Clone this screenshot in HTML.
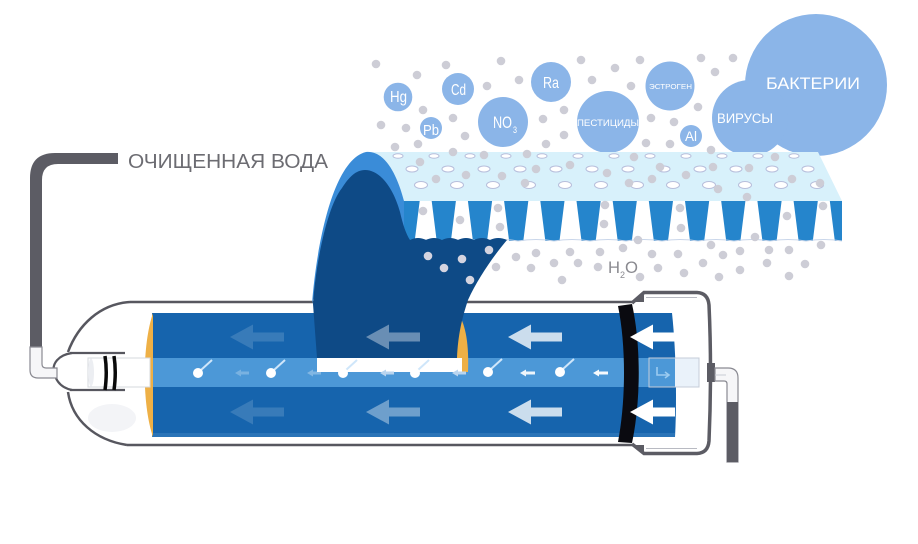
<!DOCTYPE html>
<html><head><meta charset="utf-8"><style>
html,body{margin:0;padding:0;background:#fff;}
svg{display:block;}
</style></head><body>
<svg width="918" height="544" viewBox="0 0 918 544" xmlns="http://www.w3.org/2000/svg">
<rect width="918" height="544" fill="#fff"/>

<!-- Bubbles -->
<g fill="#8bb5e8">
<circle cx="816" cy="85" r="71"/>
<circle cx="750" cy="118" r="38"/>
<circle cx="398" cy="97" r="14.3"/>
<circle cx="431" cy="128" r="11"/>
<circle cx="458" cy="89" r="16"/>
<circle cx="503" cy="122" r="25"/>
<circle cx="551" cy="82" r="20"/>
<circle cx="608" cy="122" r="31"/>
<circle cx="670" cy="86" r="24.5"/>
<circle cx="691" cy="136" r="11"/>
</g>
<g fill="#fff" font-family="'Liberation Sans Narrow','Liberation Sans','DejaVu Sans',sans-serif">
<text x="390" y="102" font-size="16" textLength="17" lengthAdjust="spacingAndGlyphs">Hg</text>
<text x="451" y="95" font-size="16" textLength="15" lengthAdjust="spacingAndGlyphs">Cd</text>
<text x="423" y="135" font-size="15" textLength="16" lengthAdjust="spacingAndGlyphs">Pb</text>
<text x="493" y="128" font-size="17" textLength="19" lengthAdjust="spacingAndGlyphs">NO</text>
<text x="513" y="133" font-size="9" textLength="4" lengthAdjust="spacingAndGlyphs">3</text>
<text x="543" y="88" font-size="16" textLength="16" lengthAdjust="spacingAndGlyphs">Ra</text>
<text x="577" y="126" font-size="9.5" textLength="62" lengthAdjust="spacingAndGlyphs">ПЕСТИЦИДЫ</text>
<text x="649" y="89" font-size="7.5" textLength="43" lengthAdjust="spacingAndGlyphs">ЭСТРОГЕН</text>
<text x="685" y="141" font-size="14" textLength="12" lengthAdjust="spacingAndGlyphs">Al</text>
<text x="717" y="123" font-size="13.5" textLength="56" lengthAdjust="spacingAndGlyphs">ВИРУСЫ</text>
<text x="766" y="89" font-size="17" textLength="94" lengthAdjust="spacingAndGlyphs">БАКТЕРИИ</text>
</g>

<!-- Membrane slab -->
<path d="M372,152 L818,152 L842,201 L404,201 C398,182 388,160 372,152 Z" fill="#d8f1fb"/>
<rect x="404" y="201" width="438" height="40" fill="#2585cc"/>
<g fill="#fff">
<polygon points="419.7,201 431.7,201 436.7,241 414.7,241"/>
<polygon points="455.9,201 467.9,201 472.9,241 450.9,241"/>
<polygon points="492.1,201 504.1,201 509.1,241 487.1,241"/>
<polygon points="528.3,201 540.3,201 545.3,241 523.3,241"/>
<polygon points="564.5,201 576.5,201 581.5,241 559.5,241"/>
<polygon points="600.7,201 612.7,201 617.7,241 595.7,241"/>
<polygon points="636.8,201 648.8,201 653.8,241 631.8,241"/>
<polygon points="673.0,201 685.0,201 690.0,241 668.0,241"/>
<polygon points="709.2,201 721.2,201 726.2,241 704.2,241"/>
<polygon points="745.4,201 757.4,201 762.4,241 740.4,241"/>
<polygon points="781.6,201 793.6,201 798.6,241 776.6,241"/>
<polygon points="817.8,201 829.8,201 834.8,241 812.8,241"/>
</g>
<path d="M410,241 Q428,238 446,241 Q464,238 482,241 Q500,238 518,241 Q536,238 554,241 Q572,238 590,241 Q608,238 626,241 Q644,238 662,241 Q680,238 698,241 Q716,238 734,241 Q752,238 770,241 Q788,238 806,241 Q824,238 842,241" fill="none" stroke="#c9d6ea" stroke-width="1"/>
<!-- holes -->
<g fill="#fff" stroke="#b7bedb" stroke-width="1">
<ellipse cx="398" cy="156" rx="5" ry="2.2"/><ellipse cx="434" cy="156" rx="5" ry="2.2"/><ellipse cx="470" cy="156" rx="5" ry="2.2"/><ellipse cx="506" cy="156" rx="5" ry="2.2"/><ellipse cx="542" cy="156" rx="5" ry="2.2"/><ellipse cx="578" cy="156" rx="5" ry="2.2"/><ellipse cx="614" cy="156" rx="5" ry="2.2"/><ellipse cx="650" cy="156" rx="5" ry="2.2"/><ellipse cx="686" cy="156" rx="5" ry="2.2"/><ellipse cx="722" cy="156" rx="5" ry="2.2"/><ellipse cx="758" cy="156" rx="5" ry="2.2"/><ellipse cx="794" cy="156" rx="5" ry="2.2"/>
<ellipse cx="412" cy="169" rx="6" ry="3"/><ellipse cx="448" cy="169" rx="6" ry="3"/><ellipse cx="484" cy="169" rx="6" ry="3"/><ellipse cx="520" cy="169" rx="6" ry="3"/><ellipse cx="556" cy="169" rx="6" ry="3"/><ellipse cx="592" cy="169" rx="6" ry="3"/><ellipse cx="628" cy="169" rx="6" ry="3"/><ellipse cx="664" cy="169" rx="6" ry="3"/><ellipse cx="700" cy="169" rx="6" ry="3"/><ellipse cx="736" cy="169" rx="6" ry="3"/><ellipse cx="772" cy="169" rx="6" ry="3"/><ellipse cx="808" cy="169" rx="6" ry="3"/>
<ellipse cx="421" cy="185" rx="6.5" ry="3.5"/><ellipse cx="457" cy="185" rx="6.5" ry="3.5"/><ellipse cx="493" cy="185" rx="6.5" ry="3.5"/><ellipse cx="529" cy="185" rx="6.5" ry="3.5"/><ellipse cx="565" cy="185" rx="6.5" ry="3.5"/><ellipse cx="601" cy="185" rx="6.5" ry="3.5"/><ellipse cx="637" cy="185" rx="6.5" ry="3.5"/><ellipse cx="673" cy="185" rx="6.5" ry="3.5"/><ellipse cx="709" cy="185" rx="6.5" ry="3.5"/><ellipse cx="745" cy="185" rx="6.5" ry="3.5"/><ellipse cx="781" cy="185" rx="6.5" ry="3.5"/><ellipse cx="817" cy="185" rx="6.5" ry="3.5"/>
</g>

<!-- Tube body -->
<path d="M130,302 L640,302 L640,445 L127,445 C95,440 72,420 68,392 L68,353 C78,325 100,304 130,302 Z" fill="#fff"/>
<ellipse cx="112" cy="418" rx="24" ry="14" fill="#f3f4f7"/>
<!-- roll -->
<path d="M152,313 L672,313 C676,350 677,400 675,437 L152,437 Z" fill="#1664ad"/>
<rect x="152" y="358" width="523" height="29" fill="#4c98d7"/>
<rect x="152" y="433" width="523" height="4" fill="#2a74b8"/>
<!-- orange ends -->
<path d="M153,313 C142,345 142,405 153,437 Z" fill="#eeb046"/>
<path d="M458,313 C466,325 469,345 468,372 L455,372 L456,313 Z" fill="#eeb046"/>

<!-- outline lines -->
<g fill="none" stroke="#57575f" stroke-width="2.5">
<path d="M130,302 L634,302"/>
<path d="M127,445 L634,445"/>
<path d="M130,302 C100,304 78,325 68,352"/>
<path d="M68,392 C72,420 95,440 127,445"/>
</g>
<path d="M72,353 C58,355 52,364 54,372 C56,382 62,388 72,390" fill="#fff" stroke="#57575f" stroke-width="2.2"/>
<path d="M70,353 L125,353 M70,390 L125,390" stroke="#57575f" stroke-width="2.2"/>

<!-- left connector -->
<rect x="88" y="358" width="62" height="29" fill="#fff" stroke="#d6d8de" stroke-width="1"/>
<ellipse cx="91" cy="372.5" rx="3" ry="14" fill="#eceef2"/>
<path d="M105,356 Q107.5,372 105,390" fill="none" stroke="#0a0a0a" stroke-width="3.5"/>
<path d="M114,356 Q116.5,372 114,390" fill="none" stroke="#0a0a0a" stroke-width="3.5"/>

<!-- left pipe -->
<path d="M118,153 L55,153 Q30,153 30,178 L30,347 L42,347 L42,180 Q42,164 58,164 L118,164 Z" fill="#5c5c64"/>
<path d="M30,347 L30,370 Q30,378 38,378 L57,378 L57,368 L46,368 Q42,368 42,364 L42,347 Z" fill="#f6f6f8" stroke="#8a8a92" stroke-width="1.2"/>

<!-- medium blue arc -->
<path d="M312,304 C316,250 332,160 366,152 C386,150 398,178 404,201 L404,241 L330,241 Z" fill="#3a8cd8"/>
<!-- navy sheet -->
<path d="M317,358 L313,304 C316,260 328,205 342,188 C349,177 356,170 365,170 C381,170 394,190 400,212 C403,225 406,234 410,240 Q418,236 426,240 Q434,236 442,240 Q450,236 458,240 Q466,236 474,240 Q482,236 490,240 Q498,236 507,240 C495,254 478,278 468,300 C462,318 458,335 457,358 Z" fill="#0e4a86"/>

<!-- big arrows -->
<g>
<polygon fill="#fff" fill-opacity="0.15" points="230,337 253,324.5 253,332.5 284,332.5 284,341.5 253,341.5 253,349.5"/>
<polygon fill="#fff" fill-opacity="0.15" points="230,412 253,399.5 253,407.5 284,407.5 284,416.5 253,416.5 253,424.5"/>
<polygon fill="#fff" fill-opacity="0.38" points="366,337 389,324.5 389,332.5 420,332.5 420,341.5 389,341.5 389,349.5"/>
<polygon fill="#fff" fill-opacity="0.38" points="366,412 389,399.5 389,407.5 420,407.5 420,416.5 389,416.5 389,424.5"/>
<polygon fill="#fff" fill-opacity="0.78" points="508,337 531,324.5 531,332.5 562,332.5 562,341.5 531,341.5 531,349.5"/>
<polygon fill="#fff" fill-opacity="0.78" points="508,412 531,399.5 531,407.5 562,407.5 562,416.5 531,416.5 531,424.5"/>
</g>

<!-- white bar -->
<rect x="317" y="358" width="145" height="14" fill="#fff"/>

<!-- small arrows in band -->
<g fill="#fff">
<polygon fill-opacity="0.25" points="235,373 241,369.5 241,371.5 249,371.5 249,374.5 241,374.5 241,376.5"/>
<polygon fill-opacity="0.3" points="307,373 313,369.5 313,371.5 321,371.5 321,374.5 313,374.5 313,376.5"/>
<polygon fill="#b9d5ef" points="380,373 386,369.5 386,371.5 394,371.5 394,374.5 386,374.5 386,376.5"/>
<polygon fill="#b9d5ef" points="452,373 458,369.5 458,371.5 466,371.5 466,374.5 458,374.5 458,376.5"/>
<polygon fill-opacity="0.9" points="520,373 526,369.5 526,371.5 535,371.5 535,374.5 526,374.5 526,376.5"/>
<polygon fill-opacity="0.95" points="593,373 599,369.5 599,371.5 608,371.5 608,374.5 599,374.5 599,376.5"/>
</g>
<!-- molecules -->
<g stroke="#cfe6fa" stroke-width="2" fill="none">
<path d="M201,370 L212,360"/><path d="M274,370 L285,360"/><path d="M346,370 L357,360"/><path d="M418,370 L429,360"/><path d="M491,369 L502,359"/><path d="M563,369 L574,359"/>
</g>
<g fill="#fff">
<circle cx="198" cy="373" r="5"/><circle cx="271" cy="373" r="5"/><circle cx="343" cy="373" r="5"/><circle cx="415" cy="373" r="5"/><circle cx="488" cy="372" r="5"/><circle cx="560" cy="372" r="5"/>
</g>

<!-- right cap -->
<rect x="675" y="358" width="24" height="29" fill="#eaf2fa"/>
<rect x="649" y="358" width="50" height="29" fill="none" stroke="#c5ccd8" stroke-width="1"/>
<path d="M657,367 L657,375 L668,375" fill="none" stroke="#9bcbf0" stroke-width="1.6"/>
<path d="M665,372 L669,375 L665,378" fill="none" stroke="#9bcbf0" stroke-width="1.6"/>
<path d="M632,303 L644,292.5 L697,292.5 Q708,293 709,305 Q712,370 709,441 Q708,453 697,453.5 L644,453.5 L632,444" fill="none" stroke="#5c5c64" stroke-width="3.5"/>
<path d="M646,297.5 L697,297.5 M646,448.5 L697,448.5" stroke="#b8bac2" stroke-width="1"/>
<polygon points="632,302 644,292 644,302" fill="#5c5c64"/>
<polygon points="632,445 644,454 644,445" fill="#5c5c64"/>
<rect x="707" y="363" width="8" height="19" fill="#5c5c64"/>
<!-- right pipe -->
<path d="M715,368 L728,368 Q738,368 738,378 L738,462 L727,462 L727,384 Q727,381 724,381 L715,381 Z" fill="#f6f6f8" stroke="#8a8a92" stroke-width="1.2"/>
<path d="M715,375 L726,375" stroke="#c8ccd4" stroke-width="1"/>
<rect x="727" y="402" width="11" height="60" fill="#5c5c64"/>

<!-- black bar -->
<path d="M618,306 C626,345 626,400 618,442 L632,443 C641,400 641,345 632,304 Z" fill="#0a0a10"/>
<!-- right white arrows -->
<polygon fill="#fff" points="630,337 653,324.5 653,332.5 675,332.5 675,341.5 653,341.5 653,349.5"/>
<polygon fill="#fff" points="630,412 653,399.5 653,407.5 675,407.5 675,416.5 653,416.5 653,424.5"/>

<!-- gray dots -->
<g fill="#cdcdd6">
<circle cx="376" cy="64" r="4.3"/><circle cx="417" cy="75" r="4.3"/><circle cx="446" cy="65" r="4.3"/><circle cx="501" cy="61" r="4.3"/><circle cx="519" cy="80" r="4.3"/><circle cx="487" cy="86" r="4.3"/><circle cx="581" cy="60" r="4.3"/><circle cx="615" cy="68" r="4.3"/><circle cx="592" cy="80" r="4.3"/><circle cx="631" cy="86" r="4.3"/><circle cx="640" cy="60" r="4.3"/><circle cx="701" cy="58" r="4.3"/><circle cx="733" cy="58" r="4.3"/><circle cx="715" cy="72" r="4.3"/>
<circle cx="423" cy="110" r="4.3"/><circle cx="381" cy="125" r="4.3"/><circle cx="406" cy="128" r="4.3"/><circle cx="453" cy="118" r="4.3"/><circle cx="465" cy="136" r="4.3"/><circle cx="395" cy="147" r="4.3"/><circle cx="418" cy="144" r="4.3"/><circle cx="543" cy="119" r="4.3"/><circle cx="564" cy="110" r="4.3"/><circle cx="564" cy="135" r="4.3"/><circle cx="546" cy="144" r="4.3"/><circle cx="651" cy="118" r="4.3"/><circle cx="674" cy="122" r="4.3"/><circle cx="698" cy="107" r="4.3"/><circle cx="646" cy="143" r="4.3"/><circle cx="670" cy="144" r="4.3"/>
<circle cx="453" cy="152" r="4.3"/><circle cx="484" cy="155" r="4.3"/><circle cx="527" cy="154" r="4.3"/><circle cx="634" cy="157" r="4.3"/><circle cx="711" cy="150" r="4.3"/><circle cx="775" cy="157" r="4.3"/>
<circle cx="420" cy="162" r="4.3"/><circle cx="436" cy="179" r="4.3"/><circle cx="466" cy="175" r="4.3"/><circle cx="502" cy="176" r="4.3"/><circle cx="525" cy="183" r="4.3"/><circle cx="536" cy="169" r="4.3"/><circle cx="570" cy="165" r="4.3"/><circle cx="607" cy="173" r="4.3"/><circle cx="629" cy="183" r="4.3"/><circle cx="652" cy="179" r="4.3"/><circle cx="660" cy="167" r="4.3"/><circle cx="686" cy="175" r="4.3"/><circle cx="713" cy="167" r="4.3"/><circle cx="718" cy="189" r="4.3"/><circle cx="747" cy="197" r="4.3"/><circle cx="749" cy="168" r="4.3"/><circle cx="792" cy="179" r="4.3"/><circle cx="820" cy="183" r="4.3"/>
<circle cx="423" cy="211" r="4.3"/><circle cx="460" cy="220" r="4.3"/><circle cx="498" cy="208" r="4.3"/><circle cx="500" cy="227" r="4.3"/><circle cx="605" cy="205" r="4.3"/><circle cx="604" cy="224" r="4.3"/><circle cx="680" cy="208" r="4.3"/><circle cx="681" cy="228" r="4.3"/><circle cx="787" cy="216" r="4.3"/><circle cx="823" cy="206" r="4.3"/><circle cx="755" cy="237" r="4.3"/>
<circle cx="638" cy="240" r="4.3"/><circle cx="516" cy="257" r="4.3"/><circle cx="536" cy="253" r="4.3"/><circle cx="570" cy="252" r="4.3"/><circle cx="600" cy="252" r="4.3"/><circle cx="623" cy="248" r="4.3"/><circle cx="652" cy="254" r="4.3"/><circle cx="678" cy="254" r="4.3"/><circle cx="711" cy="245" r="4.3"/><circle cx="723" cy="255" r="4.3"/><circle cx="740" cy="251" r="4.3"/><circle cx="769" cy="250" r="4.3"/><circle cx="789" cy="250" r="4.3"/><circle cx="821" cy="245" r="4.3"/>
<circle cx="496" cy="267" r="4.3"/><circle cx="531" cy="268" r="4.3"/><circle cx="554" cy="263" r="4.3"/><circle cx="578" cy="263" r="4.3"/><circle cx="598" cy="267" r="4.3"/><circle cx="658" cy="268" r="4.3"/><circle cx="684" cy="273" r="4.3"/><circle cx="703" cy="263" r="4.3"/><circle cx="719" cy="277" r="4.3"/><circle cx="740" cy="270" r="4.3"/><circle cx="767" cy="263" r="4.3"/><circle cx="789" cy="276" r="4.3"/><circle cx="805" cy="264" r="4.3"/><circle cx="562" cy="280" r="4.3"/><circle cx="640" cy="277" r="4.3"/>
</g>
<g fill="#d4d4e0">
<circle cx="428" cy="256" r="4.3"/><circle cx="444" cy="268" r="4.3"/><circle cx="462" cy="259" r="4.3"/><circle cx="489" cy="250" r="4.3"/><circle cx="470" cy="280" r="4.3"/>
</g>

<!-- labels -->
<text x="128" y="168" font-family="'Liberation Sans',sans-serif" font-size="20" fill="#6c6c72" textLength="200" lengthAdjust="spacingAndGlyphs">ОЧИЩЕННАЯ ВОДА</text>
<g font-family="'Liberation Sans',sans-serif" fill="#8a8a90">
<text x="608" y="273" font-size="17" textLength="12" lengthAdjust="spacingAndGlyphs">H</text>
<text x="620" y="278" font-size="9">2</text>
<text x="625" y="273" font-size="17" textLength="13" lengthAdjust="spacingAndGlyphs">O</text>
</g>
</svg>
</body></html>
